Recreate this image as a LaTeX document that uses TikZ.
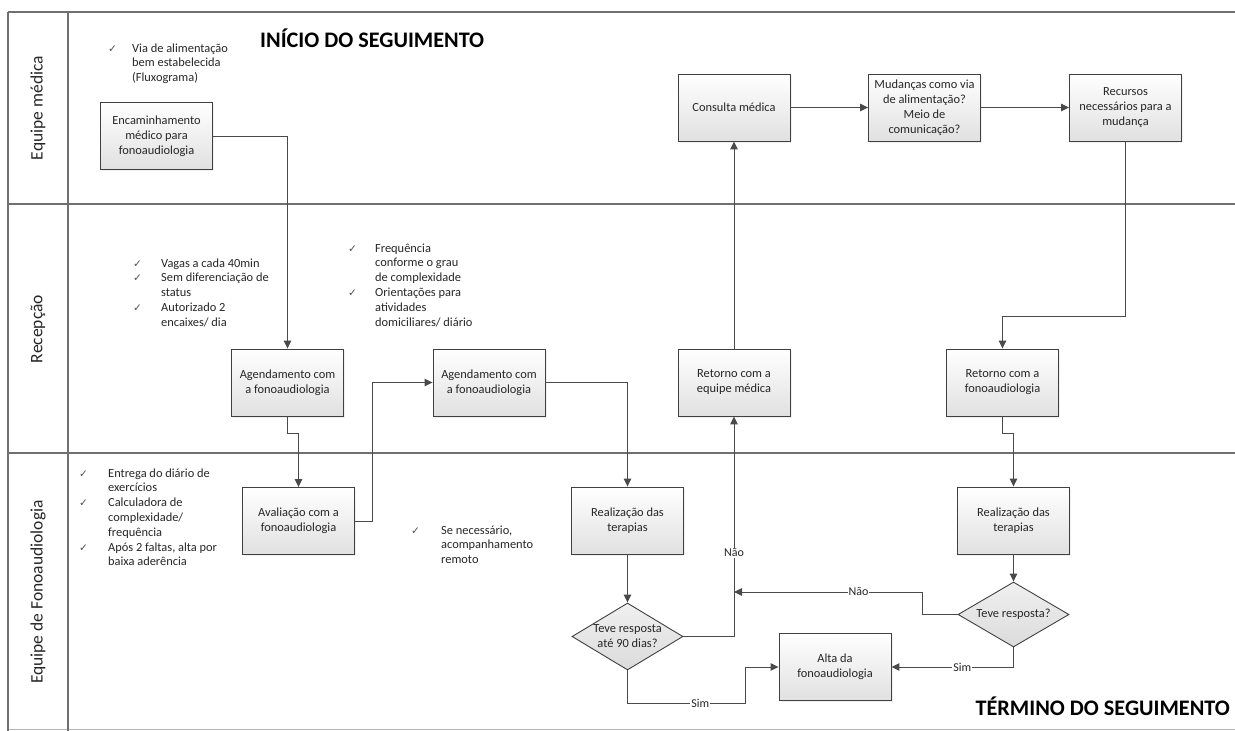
\documentclass[tikz,border=0pt]{standalone}
\usepackage{fontspec}
\setmainfont{Carlito}
\newfontfamily\checkfont{DejaVu Sans}
\usetikzlibrary{arrows.meta,shapes.geometric,shadows}
\definecolor{ink}{HTML}{262626}
\definecolor{wire}{HTML}{4A4A4A}
\definecolor{lanegray}{HTML}{707070}
\definecolor{boxline}{HTML}{404040}
\definecolor{tickgray}{HTML}{505050}
% check mark and a two-column list (mark | text)
\newcommand{\ck}{\leavevmode{\checkfont\fontsize{10.5}{10.5}\selectfont\color{tickgray}✓}}
\newcommand{\chklist}[2]{\begin{tabular}[t]{@{}p{#1}@{}l@{}}#2\end{tabular}}
\begin{document}
\begin{tikzpicture}[x=1pt,y=-1pt,
  every node/.style={text=ink},
  task/.style={rectangle, draw=boxline, line width=0.9pt,
    top color=white, bottom color=black!12,
    minimum width=112pt, minimum height=67pt, inner sep=0pt, align=center,
    font=\fontsize{12.4}{15}\selectfont,
    drop shadow={opacity=0.12, shadow xshift=1.5pt, shadow yshift=-1.5pt}},
  decision/.style={diamond, draw=boxline, line width=0.9pt,
    top color=black!6, bottom color=black!14,
    minimum width=111pt, minimum height=67pt, inner sep=0pt},
  dtext/.style={align=center, inner sep=0pt, font=\fontsize{12.4}{15}\selectfont},
  conn/.style={draw=wire, line width=1pt, -{Triangle[length=8pt,width=7.5pt]}},
  lbl/.style={fill=white, inner sep=1pt, font=\fontsize{12}{14}\selectfont},
  lanelabel/.style={rotate=90, font=\fontsize{17.5}{20}\selectfont},
  listtext/.style={inner sep=0pt, anchor=base west, font=\fontsize{12.4}{14.8}\selectfont},
  heading/.style={inner sep=0pt, font=\fontsize{22.2}{25}\selectfont\bfseries, text=black},
  laneline/.style={draw=lanegray, line width=1.3pt}
]
\useasboundingbox (0,0) rectangle (1235,731);

% swimlane frame
\draw[laneline] (8,12) -- (1235,12);
\draw[laneline] (8,204) -- (1235,204);
\draw[laneline] (8,453) -- (1235,453);
\draw[laneline, draw=lanegray!50] (8,729.5) -- (1235,729.5);
\draw[laneline] (8,12) -- (8,731);
\draw[laneline] (68,12) -- (68,731);

\node[lanelabel] (lane1) at (38,108) {Equipe médica};
\node[lanelabel] (lane2) at (38,329) {Recepção};
\node[lanelabel] (lane3) at (38,592) {Equipe de Fonoaudiologia};

% headings
\node[heading, anchor=base west] (inicio) at (260,47.5) {INÍCIO DO SEGUIMENTO};
\node[heading, anchor=base east] (termino) at (1230,715.5) {TÉRMINO DO SEGUIMENTO};

% notes
\node[listtext] (notea) at (108,52) {\chklist{24pt}{\ck & Via de alimentação\\ & bem estabelecida\\ & (Fluxograma)}};
\node[listtext] (noteb) at (133,267) {\chklist{28pt}{\ck & Vagas a cada 40min\\ \ck & Sem diferenciação de\\ & status\\ \ck & Autorizado 2\\ & encaixes/ dia}};
\node[listtext] (notec) at (348,252) {\chklist{27pt}{\ck & Frequência\\ & conforme o grau\\ & de complexidade\\ \ck & Orientações para\\ & atividades\\ & domiciliares/ diário}};
\node[listtext] (noted) at (79,477) {\chklist{29pt}{\ck & Entrega do diário de\\ & exercícios\\ \ck & Calculadora de\\ & complexidade/\\ & frequência\\ \ck & Após 2 faltas, alta por\\ & baixa aderência}};
\node[listtext] (notee) at (411,534) {\chklist{30pt}{\ck & Se necessário,\\ & acompanhamento\\ & remoto}};

% process boxes
\node[task] (enc) at (156.5,136) {Encaminhamento\\médico para\\fonoaudiologia};
\node[task] (cons) at (734,107.5) {Consulta médica};
\node[task] (mud) at (924.5,107.5) {Mudanças como via\\de alimentação?\\Meio de\\comunicação?};
\node[task] (rec) at (1125.5,107.5) {Recursos\\necessários para a\\mudança};
\node[task] (ag1) at (287.5,382.5) {Agendamento com\\a fonoaudiologia};
\node[task] (ag2) at (489,382.5) {Agendamento com\\a fonoaudiologia};
\node[task] (retmed) at (734,382.5) {Retorno com a\\equipe médica};
\node[task] (retfono) at (1002.5,382.5) {Retorno com a\\fonoaudiologia};
\node[task] (aval) at (298.5,521) {Avaliação com a\\fonoaudiologia};
\node[task] (real1) at (627.5,520.5) {Realização das\\terapias};
\node[task] (real2) at (1013.5,520.5) {Realização das\\terapias};
\node[task] (alta) at (835,667) {Alta da\\fonoaudiologia};

% decisions
\node[decision] (d1) at (627.5,636.5) {};
\node[dtext] (d1t) at (d1) {Teve resposta\\até 90 dias?};
\node[decision, minimum height=65pt] (d2) at (1013.5,614.5) {};
\node[dtext] (d2t) at (d2) {Teve resposta?};

\coordinate (join) at (734,592);

% connectors
\draw[conn] (enc.east) -| (ag1.north);
\draw[conn] (ag1.south) -- ++(0,17) -| (aval.north);
\draw[conn] (aval.east) -- ++(18,0) |- (ag2.west);
\draw[conn] (ag2.east) -| (real1.north);
\draw[conn] (real1.south) -- (d1.north);
\draw[conn] (d1.east) -| node[lbl, pos=0.69] {Não} (retmed.south);
\draw[conn] (retmed.north) -- (cons.south);
\draw[conn] (cons.east) -- (mud.west);
\draw[conn] (mud.east) -- (rec.west);
\draw[conn] (rec.south) -- ++(0,175) -| (retfono.north);
\draw[conn] (retfono.south) -- ++(0,17) -| (real2.north);
\draw[conn] (real2.south) -- (d2.north);
\draw[conn] (d2.west) -- ++(-35,0) |- node[lbl, pos=0.67] {Não} (join);
\draw[conn] (d1.south) -- ++(0,33) -- node[lbl, pos=0.62] {Sim} ++(117.5,0) |- (alta.west);
\draw[conn] (d2.south) |- node[lbl, pos=0.71] {Sim} (alta.east);
\end{tikzpicture}
\end{document}
